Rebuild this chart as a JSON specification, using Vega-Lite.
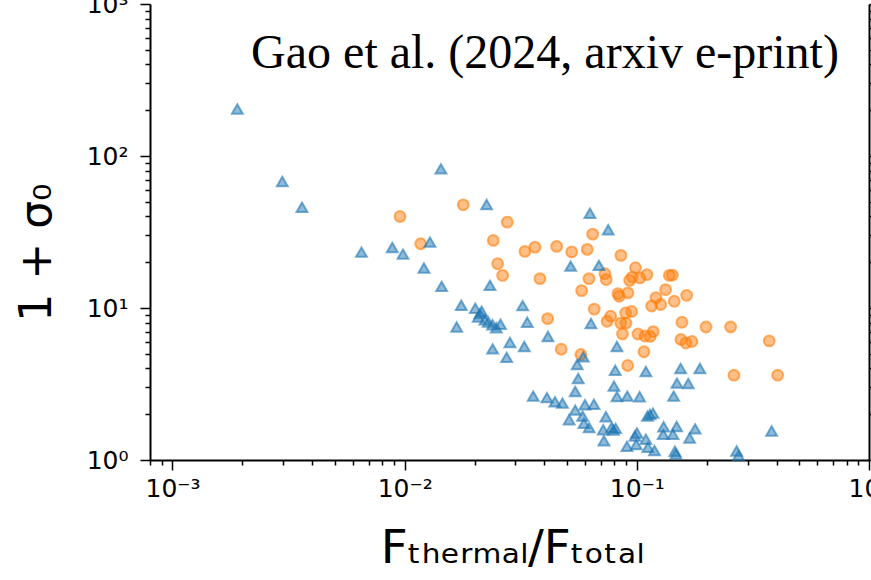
{
  "$schema": "https://vega.github.io/schema/vega-lite/v6.json",
  "autosize": "none",
  "width": 719,
  "height": 456,
  "padding": {"left": 150, "top": 4, "right": 2, "bottom": 120},
  "background": "white",
  "config": {"view": {"stroke": null}},
  "datasets": {
    "points": [
      {"x": 0.009546, "y": 40.00, "marker": "circle"},
      {"x": 0.01788, "y": 47.74, "marker": "circle"},
      {"x": 0.02766, "y": 36.70, "marker": "circle"},
      {"x": 0.02408, "y": 27.83, "marker": "circle"},
      {"x": 0.01172, "y": 26.48, "marker": "circle"},
      {"x": 0.02515, "y": 19.56, "marker": "circle"},
      {"x": 0.02642, "y": 16.39, "marker": "circle"},
      {"x": 0.03297, "y": 23.57, "marker": "circle"},
      {"x": 0.03640, "y": 25.14, "marker": "circle"},
      {"x": 0.04514, "y": 25.42, "marker": "circle"},
      {"x": 0.05239, "y": 23.39, "marker": "circle"},
      {"x": 0.06115, "y": 24.29, "marker": "circle"},
      {"x": 0.06452, "y": 30.61, "marker": "circle"},
      {"x": 0.08540, "y": 22.18, "marker": "circle"},
      {"x": 0.03825, "y": 15.60, "marker": "circle"},
      {"x": 0.06219, "y": 15.60, "marker": "circle"},
      {"x": 0.07286, "y": 16.82, "marker": "circle"},
      {"x": 0.07381, "y": 15.39, "marker": "circle"},
      {"x": 0.05784, "y": 13.01, "marker": "circle"},
      {"x": 0.09863, "y": 18.42, "marker": "circle"},
      {"x": 0.09555, "y": 15.98, "marker": "circle"},
      {"x": 0.09312, "y": 15.20, "marker": "circle"},
      {"x": 0.1031, "y": 15.79, "marker": "circle"},
      {"x": 0.1105, "y": 16.57, "marker": "circle"},
      {"x": 0.1381, "y": 16.39, "marker": "circle"},
      {"x": 0.1423, "y": 16.47, "marker": "circle"},
      {"x": 0.1330, "y": 13.21, "marker": "circle"},
      {"x": 0.08290, "y": 12.43, "marker": "circle"},
      {"x": 0.08397, "y": 11.94, "marker": "circle"},
      {"x": 0.09155, "y": 12.58, "marker": "circle"},
      {"x": 0.1209, "y": 11.70, "marker": "circle"},
      {"x": 0.1158, "y": 10.31, "marker": "circle"},
      {"x": 0.1267, "y": 10.54, "marker": "circle"},
      {"x": 0.1449, "y": 11.07, "marker": "circle"},
      {"x": 0.1639, "y": 12.12, "marker": "circle"},
      {"x": 0.06554, "y": 9.835, "marker": "circle"},
      {"x": 0.07712, "y": 8.821, "marker": "circle"},
      {"x": 0.07448, "y": 8.177, "marker": "circle"},
      {"x": 0.08951, "y": 9.273, "marker": "circle"},
      {"x": 0.09497, "y": 9.485, "marker": "circle"},
      {"x": 0.08524, "y": 7.957, "marker": "circle"},
      {"x": 0.08978, "y": 7.957, "marker": "circle"},
      {"x": 0.08670, "y": 6.750, "marker": "circle"},
      {"x": 0.04128, "y": 8.517, "marker": "circle"},
      {"x": 0.1011, "y": 6.750, "marker": "circle"},
      {"x": 0.1084, "y": 6.539, "marker": "circle"},
      {"x": 0.1142, "y": 6.500, "marker": "circle"},
      {"x": 0.1177, "y": 6.998, "marker": "circle"},
      {"x": 0.1564, "y": 8.056, "marker": "circle"},
      {"x": 0.1985, "y": 7.503, "marker": "circle"},
      {"x": 0.2535, "y": 7.503, "marker": "circle"},
      {"x": 0.1548, "y": 6.212, "marker": "circle"},
      {"x": 0.1627, "y": 5.882, "marker": "circle"},
      {"x": 0.1727, "y": 6.017, "marker": "circle"},
      {"x": 0.3717, "y": 6.072, "marker": "circle"},
      {"x": 0.1073, "y": 5.158, "marker": "circle"},
      {"x": 0.04724, "y": 5.356, "marker": "circle"},
      {"x": 0.05744, "y": 4.943, "marker": "circle"},
      {"x": 0.09129, "y": 4.186, "marker": "circle"},
      {"x": 0.2620, "y": 3.614, "marker": "circle"},
      {"x": 0.4042, "y": 3.614, "marker": "circle"},
      {"x": 0.001902, "y": 203.9, "marker": "triangle"},
      {"x": 0.002971, "y": 67.9, "marker": "triangle"},
      {"x": 0.003612, "y": 46.04, "marker": "triangle"},
      {"x": 0.01433, "y": 82.3, "marker": "triangle"},
      {"x": 0.02254, "y": 47.96, "marker": "triangle"},
      {"x": 0.06281, "y": 42.05, "marker": "triangle"},
      {"x": 0.07529, "y": 32.72, "marker": "triangle"},
      {"x": 0.006516, "y": 23.32, "marker": "triangle"},
      {"x": 0.008844, "y": 25.03, "marker": "triangle"},
      {"x": 0.009833, "y": 22.62, "marker": "triangle"},
      {"x": 0.01285, "y": 27.13, "marker": "triangle"},
      {"x": 0.01211, "y": 18.31, "marker": "triangle"},
      {"x": 0.05187, "y": 18.87, "marker": "triangle"},
      {"x": 0.06867, "y": 19.07, "marker": "triangle"},
      {"x": 0.01443, "y": 13.88, "marker": "triangle"},
      {"x": 0.02330, "y": 14.09, "marker": "triangle"},
      {"x": 0.01753, "y": 10.42, "marker": "triangle"},
      {"x": 0.02014, "y": 9.954, "marker": "triangle"},
      {"x": 0.02146, "y": 9.513, "marker": "triangle"},
      {"x": 0.02075, "y": 8.728, "marker": "triangle"},
      {"x": 0.02110, "y": 9.189, "marker": "triangle"},
      {"x": 0.02216, "y": 8.366, "marker": "triangle"},
      {"x": 0.02291, "y": 8.093, "marker": "triangle"},
      {"x": 0.02389, "y": 7.757, "marker": "triangle"},
      {"x": 0.02481, "y": 7.413, "marker": "triangle"},
      {"x": 0.02586, "y": 7.816, "marker": "triangle"},
      {"x": 0.01675, "y": 7.503, "marker": "triangle"},
      {"x": 0.03223, "y": 10.37, "marker": "triangle"},
      {"x": 0.03373, "y": 8.056, "marker": "triangle"},
      {"x": 0.02841, "y": 5.936, "marker": "triangle"},
      {"x": 0.02393, "y": 5.381, "marker": "triangle"},
      {"x": 0.03275, "y": 5.579, "marker": "triangle"},
      {"x": 0.02750, "y": 4.732, "marker": "triangle"},
      {"x": 0.04141, "y": 6.490, "marker": "triangle"},
      {"x": 0.06343, "y": 7.898, "marker": "triangle"},
      {"x": 0.05877, "y": 4.768, "marker": "triangle"},
      {"x": 0.05536, "y": 4.250, "marker": "triangle"},
      {"x": 0.08208, "y": 5.579, "marker": "triangle"},
      {"x": 0.05591, "y": 3.440, "marker": "triangle"},
      {"x": 0.08072, "y": 3.899, "marker": "triangle"},
      {"x": 0.1094, "y": 3.823, "marker": "triangle"},
      {"x": 0.1544, "y": 4.000, "marker": "triangle"},
      {"x": 0.1869, "y": 4.000, "marker": "triangle"},
      {"x": 0.1489, "y": 3.203, "marker": "triangle"},
      {"x": 0.1665, "y": 3.189, "marker": "triangle"},
      {"x": 0.07969, "y": 3.061, "marker": "triangle"},
      {"x": 0.05428, "y": 2.826, "marker": "triangle"},
      {"x": 0.03579, "y": 2.632, "marker": "triangle"},
      {"x": 0.04100, "y": 2.573, "marker": "triangle"},
      {"x": 0.04439, "y": 2.414, "marker": "triangle"},
      {"x": 0.04781, "y": 2.367, "marker": "triangle"},
      {"x": 0.08208, "y": 2.612, "marker": "triangle"},
      {"x": 0.09094, "y": 2.632, "marker": "triangle"},
      {"x": 0.1028, "y": 2.604, "marker": "triangle"},
      {"x": 0.1441, "y": 2.632, "marker": "triangle"},
      {"x": 0.05428, "y": 2.129, "marker": "triangle"},
      {"x": 0.05977, "y": 2.307, "marker": "triangle"},
      {"x": 0.06534, "y": 2.325, "marker": "triangle"},
      {"x": 0.05110, "y": 1.839, "marker": "triangle"},
      {"x": 0.05842, "y": 1.945, "marker": "triangle"},
      {"x": 0.05918, "y": 1.742, "marker": "triangle"},
      {"x": 0.06232, "y": 1.634, "marker": "triangle"},
      {"x": 0.07358, "y": 1.924, "marker": "triangle"},
      {"x": 0.07165, "y": 1.581, "marker": "triangle"},
      {"x": 0.07789, "y": 1.639, "marker": "triangle"},
      {"x": 0.08104, "y": 1.615, "marker": "triangle"},
      {"x": 0.07929, "y": 1.574, "marker": "triangle"},
      {"x": 0.07215, "y": 1.339, "marker": "triangle"},
      {"x": 0.09067, "y": 1.230, "marker": "triangle"},
      {"x": 0.09813, "y": 1.438, "marker": "triangle"},
      {"x": 0.1001, "y": 1.504, "marker": "triangle"},
      {"x": 0.09940, "y": 1.264, "marker": "triangle"},
      {"x": 0.1094, "y": 1.369, "marker": "triangle"},
      {"x": 0.1116, "y": 1.214, "marker": "triangle"},
      {"x": 0.1191, "y": 1.154, "marker": "triangle"},
      {"x": 0.1111, "y": 1.945, "marker": "triangle"},
      {"x": 0.1173, "y": 2.035, "marker": "triangle"},
      {"x": 0.1139, "y": 1.990, "marker": "triangle"},
      {"x": 0.1304, "y": 1.654, "marker": "triangle"},
      {"x": 0.1299, "y": 1.475, "marker": "triangle"},
      {"x": 0.1431, "y": 1.475, "marker": "triangle"},
      {"x": 0.1484, "y": 1.660, "marker": "triangle"},
      {"x": 0.1688, "y": 1.394, "marker": "triangle"},
      {"x": 0.1783, "y": 1.603, "marker": "triangle"},
      {"x": 0.1459, "y": 1.142, "marker": "triangle"},
      {"x": 0.1474, "y": 1.095, "marker": "triangle"},
      {"x": 0.2691, "y": 1.146, "marker": "triangle"},
      {"x": 0.2740, "y": 1.070, "marker": "triangle"},
      {"x": 0.3807, "y": 1.550, "marker": "triangle"}
    ]
  },
  "data": {"name": "points"},
  "resolve": {"axis": {"x": "independent", "y": "independent"}},
  "layer": [
    {
      "mark": {"type": "point", "filled": true, "size": 118, "fillOpacity": 0.5, "strokeOpacity": 0.6, "strokeWidth": 2},
      "encoding": {
        "x": {
          "field": "x", "type": "quantitative",
          "scale": {"type": "log", "domain": [0.0008, 1], "nice": false},
          "axis": {
            "orient": "bottom",
            "values": [0.0008, 0.0009, 0.001, 0.002, 0.003, 0.004, 0.005, 0.006, 0.007, 0.008, 0.009, 0.01, 0.02, 0.03, 0.04, 0.05, 0.06, 0.07, 0.08, 0.09, 0.1, 0.2, 0.3, 0.4, 0.5, 0.6, 0.7, 0.8, 0.9, 1],
            "labelExpr": "datum.value == 0.001 ? '10⁻³' : datum.value == 0.01 ? '10⁻²' : datum.value == 0.1 ? '10⁻¹' : datum.value == 1 ? '10⁰' : ''",
            "labelFont": "DejaVu Sans", "labelFontSize": 25, "labelColor": "black",
            "labelOverlap": false, "labelFlush": false, "labelBound": false, "labelPadding": 6,
            "tickColor": "black", "tickWidth": 1.5,
            "tickSize": {"condition": {"test": "datum.value == 0.001 || datum.value == 0.01 || datum.value == 0.1 || datum.value == 1", "value": 10}, "value": 5},
            "domainColor": "black", "domainWidth": 2, "grid": false,
            "title": "Fₜₕₑᵣₘₐₗ/Fₜₒₜₐₗ",
            "titleFont": "DejaVu Sans", "titleFontSize": 47, "titleFontWeight": "normal", "titleColor": "black",
            "titleX": 362, "titleY": 88, "titleAlign": "center", "titleBaseline": "middle"
          }
        },
        "y": {
          "field": "y", "type": "quantitative",
          "scale": {"type": "log", "domain": [1, 1000], "nice": false},
          "axis": {
            "orient": "left",
            "values": [1, 2, 3, 4, 5, 6, 7, 8, 9, 10, 20, 30, 40, 50, 60, 70, 80, 90, 100, 200, 300, 400, 500, 600, 700, 800, 900, 1000],
            "labelExpr": "datum.value == 1 ? '10⁰' : datum.value == 10 ? '10¹' : datum.value == 100 ? '10²' : datum.value == 1000 ? '10³' : ''",
            "labelFont": "DejaVu Sans", "labelFontSize": 25, "labelColor": "black",
            "labelOverlap": false, "labelFlush": false, "labelBound": false, "labelPadding": 12,
            "tickColor": "black", "tickWidth": 1.5,
            "tickSize": {"condition": {"test": "datum.value == 1 || datum.value == 10 || datum.value == 100 || datum.value == 1000", "value": 10}, "value": 5},
            "domainColor": "black", "domainWidth": 2, "grid": false,
            "title": "1 + σ₀",
            "titleFont": "DejaVu Sans", "titleFontSize": 44, "titleFontWeight": "normal", "titleColor": "black",
            "titleAngle": -90, "titleX": -113, "titleY": 248, "titleAlign": "center", "titleBaseline": "middle"
          }
        },
        "color": {"field": "marker", "type": "nominal", "scale": {"domain": ["circle", "triangle"], "range": ["#ff7f0e", "#1f77b4"]}, "legend": null},
        "stroke": {"field": "marker", "type": "nominal", "scale": {"domain": ["circle", "triangle"], "range": ["#ff7f0e", "#1f77b4"]}, "legend": null},
        "shape": {"field": "marker", "type": "nominal", "scale": {"domain": ["circle", "triangle"], "range": ["circle", "triangle-up"]}, "legend": null}
      }
    },
    {
      "mark": {"type": "point", "opacity": 0},
      "encoding": {
        "x": {"field": "x", "type": "quantitative", "axis": null},
        "y": {
          "field": "y", "type": "quantitative",
          "axis": {
            "orient": "right",
            "values": [1, 2, 3, 4, 5, 6, 7, 8, 9, 10, 20, 30, 40, 50, 60, 70, 80, 90, 100, 200, 300, 400, 500, 600, 700, 800, 900, 1000],
            "labels": false, "title": null, "grid": false,
            "tickColor": "black", "tickWidth": 1.5,
            "tickSize": {"condition": {"test": "datum.value == 1 || datum.value == 10 || datum.value == 100 || datum.value == 1000", "value": 10}, "value": 5},
            "domainColor": "black", "domainWidth": 2
          }
        }
      }
    },
    {
      "data": {"values": [{"label": "Gao et al. (2024, arxiv e-print)"}]},
      "mark": {"type": "text", "align": "right", "baseline": "alphabetic", "font": "Liberation Serif", "fontSize": 48, "color": "black"},
      "encoding": {
        "x": {"datum": 0.742, "type": "quantitative", "axis": null},
        "y": {"datum": 379, "type": "quantitative", "axis": null},
        "text": {"field": "label"}
      }
    }
  ]
}
